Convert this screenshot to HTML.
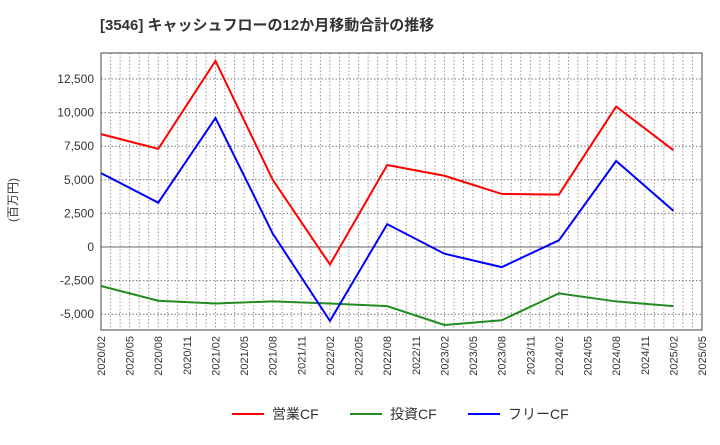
<!DOCTYPE html>
<html><head><meta charset="utf-8"><style>
body{margin:0;background:#fff;font-family:"Liberation Sans","Noto Sans CJK JP",sans-serif;}
</style></head><body>
<svg id="c" width="720" height="440" xmlns="http://www.w3.org/2000/svg">
<text x="100" y="30" font-size="15" font-weight="bold" fill="#333">[3546]  キャッシュフローの12か月移動合計の推移</text>
<text transform="translate(17,200) rotate(-90)" font-size="12" fill="#333" text-anchor="middle">(百万円)</text>
<g id="grid"></g><g id="series"></g><g id="axes"></g>
<g font-size="14" fill="#333">
<line x1="232" y1="414" x2="264" y2="414" stroke="#f00" stroke-width="2"/><text x="272" y="419">営業CF</text>
<line x1="350" y1="414" x2="382" y2="414" stroke="#228b22" stroke-width="2"/><text x="390" y="419">投資CF</text>
<line x1="468" y1="414" x2="500" y2="414" stroke="#00f" stroke-width="2"/><text x="508" y="419">フリーCF</text>
</g>
</svg>
<script>
const categories=["2020/02","2020/08","2021/02","2021/08","2022/02","2022/08","2023/02","2023/08","2024/02","2024/08","2025/02"];
const tickLabels=["2020/02","2020/05","2020/08","2020/11","2021/02","2021/05","2021/08","2021/11","2022/02","2022/05","2022/08","2022/11","2023/02","2023/05","2023/08","2023/11","2024/02","2024/05","2024/08","2024/11","2025/02","2025/05"];
const operatingCF=[8400,7300,13850,5000,-1300,6100,5300,3950,3900,10450,7200];
const investingCF=[-2900,-4000,-4200,-4050,-4200,-4400,-5800,-5450,-3450,-4050,-4400];
const freeCF=[5500,3300,9600,1000,-5500,1700,-500,-1500,500,6400,2700];
const yTicks=[-5000,-2500,0,2500,5000,7500,10000,12500];
const L=101,R=702,T=53,B=330;
const NS="http://www.w3.org/2000/svg";
const xq=i=>L+(R-L)*i/21;
const xm=m=>L+(R-L)*m/63;
const y=v=>247-v*33.6/2500;
function mk(t,a,p){const e=document.createElementNS(NS,t);for(const k in a)e.setAttribute(k,a[k]);p.appendChild(e);return e;}
const g=document.getElementById('grid'),s=document.getElementById('series'),ax=document.getElementById('axes');
for(let m=1;m<63;m++){const l=mk('line',{x1:xm(m),x2:xm(m),y1:T,y2:B,stroke:'#999','stroke-dasharray':'1.5,2','stroke-width':1},g);

}
yTicks.forEach(v=>{const l=mk('line',{x1:L,x2:R,y1:y(v),y2:y(v),stroke:v==0?'#666':'#777','stroke-dasharray':v==0?'':'1.5,2','stroke-width':1},g);


const t=mk('text',{x:L-7,y:y(v)+4,'text-anchor':'end','font-size':12,fill:'#333'},ax);t.textContent=v.toLocaleString('en-US');

});
tickLabels.forEach((lab,i)=>{const t=mk('text',{transform:`translate(${xq(i)+4},${B+6}) rotate(-90)`,'text-anchor':'end','font-size':11,fill:'#333'},ax);t.textContent=lab;

});
const fr=mk('rect',{x:L,y:T,width:R-L,height:B-T,fill:'none',stroke:'#444','stroke-width':1},ax);


[[operatingCF,'#f00','operating-cf-line'],[investingCF,'#228b22','investing-cf-line'],[freeCF,'#00f','free-cf-line']].forEach(([d,c,n])=>{
const pts=d.map((v,i)=>xq(i*2)+','+y(v)).join(' ');
const p=mk('polyline',{points:pts,fill:'none',stroke:c,'stroke-width':2},s);

});
</script>
</body></html>
